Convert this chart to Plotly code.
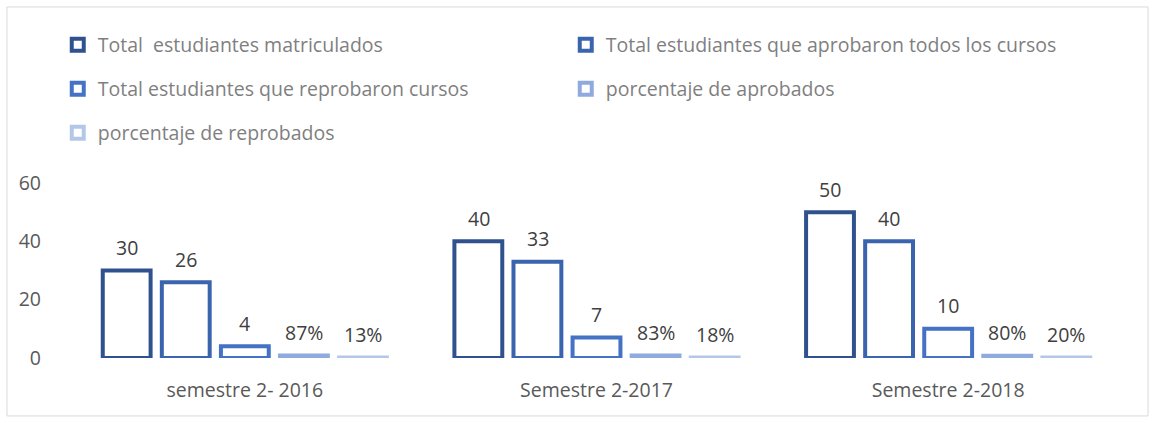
import plotly.graph_objects as go

categories = ["semestre 2- 2016", "Semestre 2-2017", "Semestre 2-2018"]
matriculados = [30, 40, 50]
aprobaron = [26, 33, 40]
reprobaron = [4, 7, 10]
pct_aprobados = [0.87, 0.83, 0.80]
pct_reprobados = [0.13, 0.18, 0.20]

series = [
    ("Total  estudiantes matriculados", matriculados, "#2F528F", "{:d}", "legend"),
    ("Total estudiantes que aprobaron todos los cursos", aprobaron, "#3A64AE", "{:d}", "legend"),
    ("Total estudiantes que reprobaron cursos", reprobaron, "#4472C4", "{:d}", "legend2"),
    ("porcentaje de aprobados", pct_aprobados, "#8FAADC", "{:.0%}", "legend2"),
    ("porcentaje de reprobados", pct_reprobados, "#B4C7E7", "{:.0%}", "legend3"),
]

FONT = "Open Sans"
FS = 19.5
SLOT = 59  # pixel width of one bar slot within a group

fig = go.Figure()
annotations = []
n = len(series)
for i, (name, vals, color, fmt, leg) in enumerate(series):
    fig.add_trace(go.Bar(
        x=categories, y=vals, name=name,
        marker=dict(color="white", line=dict(color=color, width=4)),
        legend=leg, hoverinfo="x+y+name",
    ))
    off = (i - (n - 1) / 2) * SLOT
    for c, v in zip(categories, vals):
        annotations.append(dict(
            x=c, y=v, xref="x", yref="y", text=fmt.format(v),
            showarrow=False, xshift=off, yshift=23, yanchor="middle",
            font=dict(family=FONT, size=FS, color="#404040"),
        ))

legend_common = dict(
    orientation="h", entrywidth=463, entrywidthmode="pixels",
    font=dict(family=FONT, size=FS, color="#7F7F7F"),
    bgcolor="rgba(0,0,0,0)", xanchor="left", yanchor="middle",
    xref="container", yref="container",
    itemclick=False, itemdoubleclick=False,
)

LX = 0.050
fig.update_layout(
    width=1155, height=423,
    margin=dict(l=69, r=31, t=183, b=65, autoexpand=False),
    paper_bgcolor="white", plot_bgcolor="white",
    barmode="group", bargap=0.16, bargroupgap=0.19,
    font=dict(family=FONT, size=FS, color="#595959"),
    yaxis=dict(range=[0, 60], dtick=20, showgrid=False, zeroline=False,
               showline=False, ticks="", automargin=False,
               tickfont=dict(family=FONT, size=FS, color="#595959"),
               ticklabelstandoff=27),
    xaxis=dict(showgrid=False, showline=False, ticks="", automargin=False,
               tickfont=dict(family=FONT, size=FS, color="#595959"),
               ticklabelstandoff=18),
    legend=dict(x=LX, y=0.8936, **legend_common),
    legend2=dict(x=LX, y=0.7896, **legend_common),
    legend3=dict(x=LX, y=0.6856, **legend_common),
    showlegend=True,
    annotations=annotations,
    shapes=[dict(type="rect", xref="paper", yref="paper",
                 x0=-0.0588, x1=1.0228, y0=-0.331, y1=2.006,
                 line=dict(color="#D9D9D9", width=1), fillcolor="rgba(0,0,0,0)",
                 layer="below")],
)

fig.write_html("out.html", config={"displayModeBar": False},
               post_script="document.body.style.margin='0';document.body.style.overflow='hidden';")
